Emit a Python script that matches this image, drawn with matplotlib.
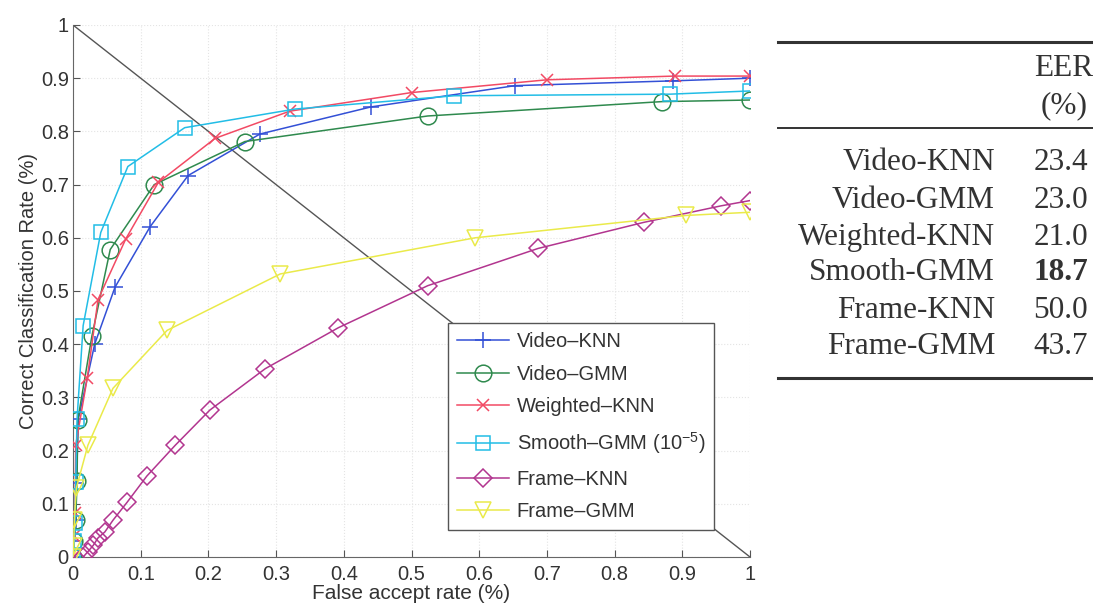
import matplotlib
matplotlib.use("Agg")
import matplotlib.pyplot as plt
from matplotlib.lines import Line2D

plt.rcParams["font.family"] = ["Liberation Sans", "DejaVu Sans"]
plt.rcParams["mathtext.fontset"] = "custom"
plt.rcParams["mathtext.rm"] = "Liberation Sans"
plt.rcParams["mathtext.it"] = "Liberation Sans:italic"

# ROC-style curves (false accept rate vs correct classification rate)
video_knn_x = [0, 0.002, 0.004, 0.005, 0.008, 0.032, 0.062, 0.114, 0.17, 0.276, 0.44, 0.653, 0.886, 1.0]
video_knn_y = [0, 0.03, 0.07, 0.14, 0.26, 0.40, 0.507, 0.621, 0.717, 0.795, 0.846, 0.886, 0.895, 0.90]

video_gmm_x = [0, 0.002, 0.004, 0.006, 0.007, 0.028, 0.055, 0.12, 0.254, 0.524, 0.87, 1.0]
video_gmm_y = [0, 0.03, 0.07, 0.142, 0.257, 0.416, 0.578, 0.70, 0.781, 0.829, 0.856, 0.859]

weighted_knn_x = [0, 0.002, 0.003, 0.004, 0.021, 0.037, 0.078, 0.126, 0.21, 0.32, 0.50, 0.70, 0.889, 1.0]
weighted_knn_y = [0, 0.04, 0.083, 0.21, 0.336, 0.484, 0.598, 0.704, 0.787, 0.838, 0.873, 0.897, 0.904, 0.904]

smooth_gmm_x = [0, 0.002, 0.003, 0.004, 0.006, 0.015, 0.041, 0.081, 0.165, 0.328, 0.563, 0.882, 1.0]
smooth_gmm_y = [0, 0.03, 0.064, 0.141, 0.26, 0.435, 0.61, 0.734, 0.807, 0.842, 0.867, 0.870, 0.876]

frame_knn_x = [0.015, 0.022, 0.03, 0.037, 0.047, 0.059, 0.08, 0.109, 0.151, 0.202, 0.284, 0.392, 0.524, 0.687, 0.843, 0.957, 1.0]
frame_knn_y = [0.0, 0.01, 0.022, 0.036, 0.047, 0.069, 0.103, 0.152, 0.21, 0.276, 0.354, 0.431, 0.51, 0.58, 0.629, 0.66, 0.67]

frame_gmm_x = [0, 0.001, 0.002, 0.005, 0.022, 0.059, 0.139, 0.306, 0.594, 0.905, 1.0]
frame_gmm_y = [0, 0.02, 0.07, 0.13, 0.21, 0.317, 0.426, 0.532, 0.60, 0.642, 0.648]

eer_line_x = [0, 1]
eer_line_y = [1, 0]

ticks = [0, 0.1, 0.2, 0.3, 0.4, 0.5, 0.6, 0.7, 0.8, 0.9, 1]
tick_labels = ["0", "0.1", "0.2", "0.3", "0.4", "0.5", "0.6", "0.7", "0.8", "0.9", "1"]

# EER table
table_methods = ["Video-KNN", "Video-GMM", "Weighted-KNN", "Smooth-GMM", "Frame-KNN", "Frame-GMM"]
table_eer = ["23.4", "23.0", "21.0", "18.7", "50.0", "43.7"]
best_method = "Smooth-GMM"

fig = plt.figure(figsize=(10.93, 6.09), dpi=100)
ax = fig.add_axes([73 / 1093, 52 / 609, 677 / 1093, 532 / 609])

ax.plot(eer_line_x, eer_line_y, color="#555555", lw=1.0, zorder=1)

series = [
    (video_knn_x, video_knn_y, "Video\u2013KNN", "#3350d6", "+", 11),
    (video_gmm_x, video_gmm_y, "Video\u2013GMM", "#2f8a4e", "o", 12),
    (weighted_knn_x, weighted_knn_y, "Weighted\u2013KNN", "#f24a64", "x", 8),
    (smooth_gmm_x, smooth_gmm_y, "Smooth\u2013GMM (10$^{-5}$)", "#22bde6", "s", 10),
    (frame_knn_x, frame_knn_y, "Frame\u2013KNN", "#b2358f", "D", 9),
    (frame_gmm_x, frame_gmm_y, "Frame\u2013GMM", "#eaea4a", "v", 11),
]
for x, y, label, color, marker, ms in series:
    ax.plot(x, y, color=color, marker=marker, markersize=ms, fillstyle="none",
            markeredgewidth=1.1, lw=1.1, label=label, zorder=3)

ax.set_xlim(0, 1)
ax.set_ylim(0, 1)
ax.set_xticks(ticks)
ax.set_xticklabels(tick_labels)
ax.set_yticks(ticks)
ax.set_yticklabels(tick_labels)
ax.tick_params(direction="in", length=5, labelsize=14.5, colors="#555555", labelcolor="#333333")
ax.tick_params(axis="x", pad=6)
ax.tick_params(axis="y", pad=3)
ax.spines["top"].set_visible(False)
ax.spines["right"].set_visible(False)
ax.spines["left"].set_color("#666666")
ax.spines["bottom"].set_color("#666666")
ax.grid(True, ls=":", color="#e4e4e4", lw=0.8)
ax.set_axisbelow(True)

ax.set_xlabel("False accept rate (%)", fontsize=15, color="#333333", labelpad=0)
ax.set_ylabel("Correct Classification Rate (%)", fontsize=14.5, color="#333333", labelpad=2)

leg = ax.legend(loc="lower left", bbox_to_anchor=(0.554, 0.05), borderaxespad=0, fontsize=14.5,
                handlelength=2.6, labelspacing=0.68, borderpad=0.45, handletextpad=0.35,
                frameon=True, fancybox=False, framealpha=1, edgecolor="#555555")
leg.get_frame().set_linewidth(1.0)
leg.set_zorder(5)
for t in leg.get_texts():
    t.set_color("#333333")

# table on the right side
rule_x = [778 / 1093, 1.0]
fig.add_artist(Line2D(rule_x, [1 - 42 / 609] * 2, color="#333333", lw=2.2))
fig.add_artist(Line2D(rule_x, [1 - 128 / 609] * 2, color="#333333", lw=1.4))
fig.add_artist(Line2D(rule_x, [1 - 378 / 609] * 2, color="#333333", lw=2.2))

serif = ["Liberation Serif", "DejaVu Serif"]
fig.text(1064 / 1093, 1 - 68 / 609, "EER", family=serif, fontsize=22.5, ha="center", va="center", color="#333333")
fig.text(1064 / 1093, 1 - 106 / 609, "(%)", family=serif, fontsize=22.5, ha="center", va="center", color="#333333")
row_y = [163, 200, 237, 273, 310, 347]
for name, val, py in zip(table_methods, table_eer, row_y):
    fig.text(995 / 1093, 1 - py / 609, name, family=serif, fontsize=22.5, ha="right", va="center", color="#333333")
    fig.text(1088 / 1093, 1 - py / 609, val, family=serif, fontsize=22.5, ha="right", va="center", color="#333333",
             weight="bold" if name == best_method else "normal")

fig.savefig("out.png", dpi=100)
